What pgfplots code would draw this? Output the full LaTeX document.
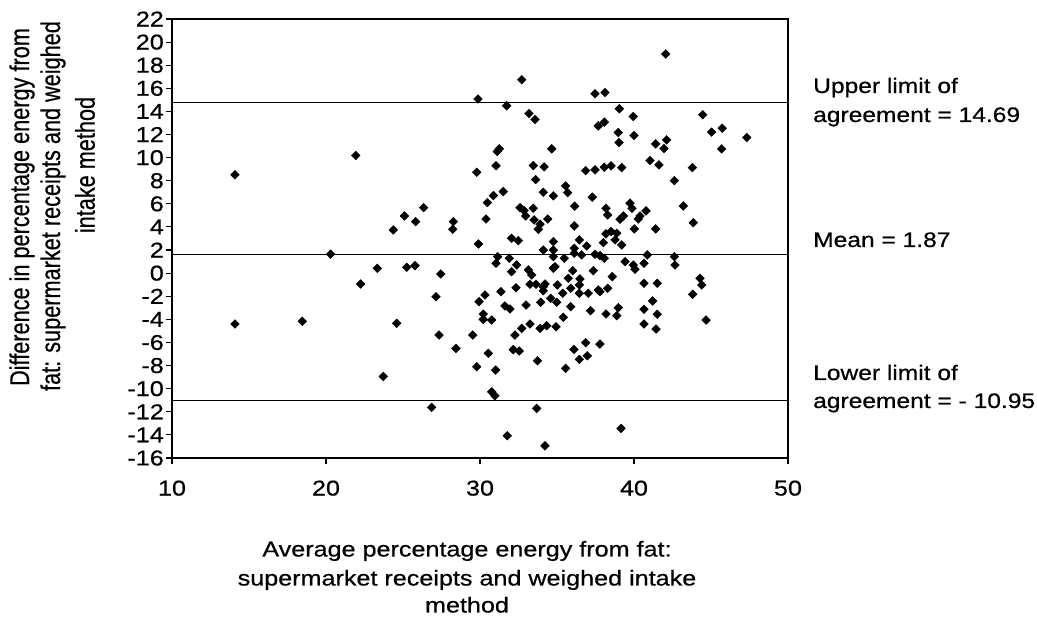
\documentclass[border=0pt]{standalone}
\usepackage{pgfplots}
\pgfplotsset{compat=1.18}
\usepackage{pgfplotstable}
\usepackage{graphicx}
\usepackage{fontspec}
\setmainfont{Liberation Sans}[FakeStretch=1.17,FakeBold=0.6]
\newfontfamily\plainfont{Liberation Sans}[FakeBold=0.6]

\pgfplotstableread{
x y
14.09 8.51
21.93 10.18
20.30 1.64
22.25 -0.94
23.33 0.42
24.37 3.74
14.09 -4.40
18.46 -4.17
24.59 -4.34
23.72 -8.94
32.71 16.74
29.87 15.07
31.73 14.49
33.18 13.82
33.57 13.30
31.25 10.76
31.12 10.53
34.66 10.76
31.04 9.29
29.79 8.74
33.46 9.31
34.16 9.20
33.61 8.10
35.56 7.55
35.69 6.97
31.51 7.06
30.87 6.72
30.48 6.11
34.11 7.00
34.76 6.69
26.34 5.67
25.09 4.95
25.82 4.46
28.27 4.46
28.23 3.80
30.39 4.69
32.60 5.67
32.86 5.41
32.97 4.95
33.46 5.62
33.51 4.61
33.90 4.24
33.79 3.80
34.40 4.69
29.90 2.53
32.05 3.02
32.49 2.81
34.76 2.73
34.11 2.00
34.76 2.00
34.76 1.43
35.47 1.29
31.15 1.43
31.90 1.29
42.06 18.97
37.47 15.53
38.12 15.64
39.05 14.23
39.95 13.56
37.68 12.75
38.07 13.07
38.98 12.17
39.03 11.31
40.00 11.91
44.46 13.71
45.04 12.21
45.73 12.55
45.69 10.76
47.32 11.74
41.41 11.19
42.12 11.54
41.95 10.79
41.04 9.75
41.62 9.37
43.79 9.14
36.86 8.88
37.47 8.94
38.07 9.17
38.51 9.29
39.20 9.14
42.62 8.01
37.29 6.58
36.15 5.80
36.12 4.09
38.18 5.62
38.29 5.04
39.74 6.06
39.87 5.62
40.78 5.39
40.39 4.95
40.28 4.69
39.31 4.95
39.09 4.67
43.20 5.82
43.85 4.37
40.02 3.83
41.41 3.83
38.18 3.40
38.51 3.60
38.88 3.46
38.77 2.88
39.20 2.44
38.01 2.64
36.45 2.88
36.93 2.35
36.12 2.16
36.12 1.72
36.60 1.58
37.47 1.64
37.79 1.52
38.07 1.29
40.86 1.58
42.62 1.43
25.24 0.51
25.78 0.65
27.45 -0.07
27.14 -2.04
27.34 -5.36
28.44 -6.51
29.53 -5.36
29.79 -8.10
30.54 -6.94
31.02 -8.39
30.76 -10.27
30.97 -10.62
26.86 -11.62
33.68 -11.71
31.77 -14.08
34.22 -14.95
29.94 -2.47
30.32 -1.89
30.21 -3.54
30.21 -4.00
30.76 -4.06
31.04 0.86
31.36 -1.60
31.62 -2.84
31.95 -3.10
32.05 0.13
32.38 0.71
32.34 -1.26
33.14 0.28
33.36 -0.16
32.99 -2.76
33.25 -0.96
33.64 -0.96
32.27 -5.36
32.71 -4.78
33.25 -4.40
32.16 -6.62
32.55 -6.74
33.73 -7.58
33.90 -4.78
34.33 -4.55
34.94 -4.64
33.94 -2.52
34.11 -1.17
34.22 -0.94
34.11 -1.52
34.59 -2.18
34.98 -2.52
34.87 0.56
34.76 0.42
35.02 -1.02
35.37 -1.74
35.73 -0.44
35.89 -1.31
35.89 -2.90
35.41 -3.82
35.56 -8.24
36.02 0.21
36.49 -0.50
36.45 -1.02
36.45 -1.74
37.03 -1.74
37.68 -1.46
37.79 -1.60
38.29 -1.31
38.59 -0.30
37.36 0.21
39.42 1.00
39.95 0.71
40.06 0.34
40.65 0.86
40.65 -0.88
41.51 -0.88
42.66 0.71
44.29 -0.44
44.40 -1.02
43.81 -1.83
41.21 -2.41
40.65 -3.13
41.51 -3.56
40.65 -4.40
41.43 -4.84
38.98 -2.99
38.88 -3.68
38.18 -3.54
37.18 -3.25
44.68 -4.06
36.10 -6.60
36.86 -6.02
37.79 -6.14
36.97 -7.15
36.45 -7.46
39.16 -13.44
}\datatable

\begin{document}
\begin{tikzpicture}
\begin{axis}[
  at={(0pt,0pt)}, anchor=south west,
  scale only axis, width=616pt, height=439pt,
  xmin=10, xmax=50, ymin=-16, ymax=22,
  xtick={10,20,30,40,50}, ytick={-16,-14,...,22},
  tick pos=left, tick align=outside, major tick length=6pt,
  axis line style={line width=1.6pt},
  every tick/.style={black, line width=1.1pt},
  /pgf/number format/assume math mode=true,
  tick label style={font=\fontsize{21.5}{25}\selectfont},
  yticklabel style={inner sep=2pt},
  xticklabel style={yshift=-13pt},
  clip=false,
]
\addplot[only marks, mark=square*, mark size=3.1pt,
  mark options={rotate=45, fill=black, draw=black}] table {\datatable};
\addplot[black, line width=1.3pt] coordinates {(10,14.75) (50,14.75)};
\addplot[black, line width=1.3pt] coordinates {(10,1.6) (50,1.6)};
\addplot[black, line width=1.3pt] coordinates {(10,-11.0) (50,-11.0)};
\end{axis}
% y-axis title
\node[rotate=90, anchor=center, inner sep=0pt] at (-150pt,251pt)
  {\plainfont\fontsize{21.7}{26}\selectfont\scalebox{1}[1.25]{Difference in percentage energy from}};
\node[rotate=90, anchor=center, inner sep=0pt] at (-119pt,252pt)
  {\plainfont\fontsize{21.7}{26}\selectfont\scalebox{1}[1.25]{fat: supermarket receipts and weighed}};
\node[rotate=90, anchor=center, inner sep=0pt] at (-87pt,293pt)
  {\plainfont\fontsize{21.7}{26}\selectfont\scalebox{1}[1.25]{intake method}};
% x-axis title
\node[anchor=base, inner sep=0pt] at (295pt,-98.5pt)
  {\fontsize{21.5}{26}\selectfont Average percentage energy from fat:};
\node[anchor=base, inner sep=0pt] at (295pt,-127.5pt)
  {\fontsize{21.5}{26}\selectfont supermarket receipts and weighed intake};
\node[anchor=base, inner sep=0pt] at (295pt,-154.5pt)
  {\fontsize{21.5}{26}\selectfont method};
% annotations
\node[anchor=base west, inner sep=0pt] at (641pt,365pt) {\fontsize{21}{25}\selectfont Upper limit of};
\node[anchor=base west, inner sep=0pt] at (641pt,336pt) {\fontsize{21}{25}\selectfont agreement = 14.69};
\node[anchor=base west, inner sep=0pt] at (641pt,211pt) {\fontsize{21}{25}\selectfont Mean = 1.87};
\node[anchor=base west, inner sep=0pt] at (641pt,78pt) {\fontsize{21}{25}\selectfont Lower limit of};
\node[anchor=base west, inner sep=0pt] at (641pt,50pt) {\fontsize{21}{25}\selectfont agreement = - 10.95};
\pgfresetboundingbox
\path[use as bounding box] (-172pt,-163pt) rectangle (865pt,458pt);
\end{tikzpicture}
\end{document}
